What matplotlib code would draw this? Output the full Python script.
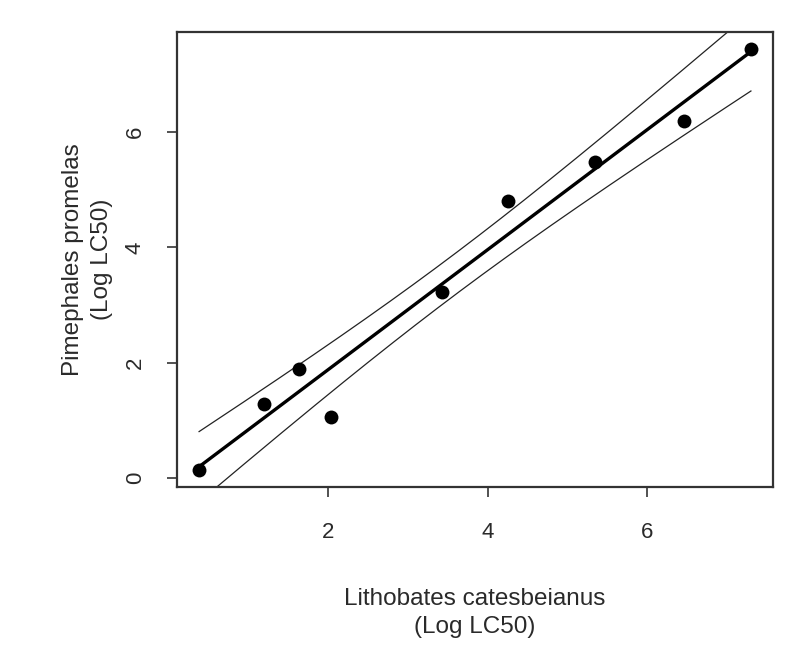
import numpy as np
import matplotlib
matplotlib.use("Agg")
import matplotlib.pyplot as plt

plt.rcParams['font.family'] = ['Liberation Sans', 'DejaVu Sans']

# Log LC50 values for the two species
bullfrog_log_lc50 = [0.38, 1.19, 1.63, 2.04, 3.43, 4.25, 5.34, 6.46, 7.30]
minnow_log_lc50 = [0.13, 1.28, 1.89, 1.06, 3.22, 4.80, 5.49, 6.19, 7.45]

x_ticks = [2, 4, 6]
y_ticks = [0, 2, 4, 6]

x = np.array(bullfrog_log_lc50)
y = np.array(minnow_log_lc50)

# Least-squares fit with 95% confidence band
n = len(x)
slope, intercept = np.polyfit(x, y, 1)
resid = y - (intercept + slope * x)
s = np.sqrt(np.sum(resid ** 2) / (n - 2))
t_crit = 2.3646  # t(0.975, df=7)
xs = np.linspace(x.min(), x.max(), 200)
fit = intercept + slope * xs
se = s * np.sqrt(1.0 / n + (xs - x.mean()) ** 2 / np.sum((x - x.mean()) ** 2))
upper = fit + t_crit * se
lower = fit - t_crit * se

W, H = 786, 652
fig = plt.figure(figsize=(W / 100, H / 100), dpi=100)
left, right, top, bottom = 177, 773, 32, 487
ax = fig.add_axes([left / W, 1 - bottom / H, (right - left) / W, (bottom - top) / H])

ax.plot(xs, fit, color='black', lw=2.4, solid_capstyle='butt')
ax.plot(xs, upper, color='#222222', lw=0.9)
ax.plot(xs, lower, color='#222222', lw=0.9)
ax.scatter(x, y, s=100, color='black', zorder=3, linewidths=0)

# axis ranges padded 4% beyond the data
xr = x.max() - x.min()
yr = y.max() - y.min()
ax.set_xlim(x.min() - 0.04 * xr, x.max() + 0.04 * xr)
ax.set_ylim(y.min() - 0.04 * yr, y.max() + 0.04 * yr)

ax.set_xticks(x_ticks)
ax.set_yticks(y_ticks)
ax.tick_params(direction='out', length=7.5, width=1.2, color='#333333',
               labelsize=16, labelcolor='#2a2a2a')
ax.tick_params(axis='x', pad=18)
ax.tick_params(axis='y', pad=15)
for lab in ax.get_yticklabels():
    lab.set_rotation(90)
    lab.set_va('center')
for sp in ax.spines.values():
    sp.set_linewidth(1.6)
    sp.set_color('#333333')

cx = (left + right) / 2 / W
cy = 1 - (top + bottom) / 2 / H
fig.text(cx, 1 - 613 / H, 'Lithobates catesbeianus\n(Log LC50)', fontsize=17.5,
         color='#2a2a2a', ha='center', va='center', linespacing=1.38,
         multialignment='center')
fig.text(87.5 / W, cy, 'Pimephales promelas\n(Log LC50)', fontsize=17.5,
         color='#2a2a2a', ha='center', va='center', rotation=90,
         linespacing=1.38, multialignment='center')

fig.savefig('out.png', dpi=100)
